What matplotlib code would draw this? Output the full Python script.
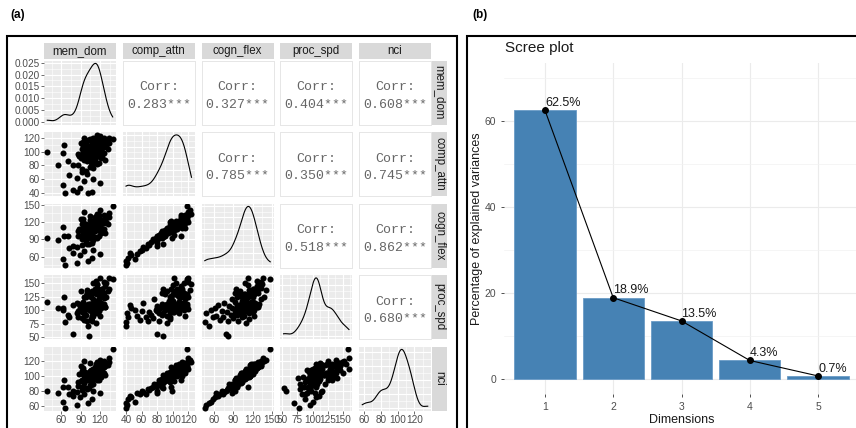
import matplotlib.pyplot as plt
import numpy as np
from matplotlib.patches import Rectangle
from matplotlib.ticker import FixedLocator, MultipleLocator, MaxNLocator, FormatStrFormatter

# --------------------------------------
# Donnees
# --------------------------------------
var_names = ['mem_dom', 'comp_attn', 'cogn_flex', 'proc_spd', 'nci']

mem_dom = [66, 85, 102, 107, 89, 120, 63, 78, 95, 110,
           38, 62, 55, 64, 98, 92, 104, 86, 110, 108,
           106, 118, 96, 105, 122, 110, 100, 112, 120, 114,
           108, 115, 126, 112, 104, 124, 114, 110, 128, 116,
           112, 130, 118, 114, 134, 120, 140, 116, 110, 102,
           118, 124, 90, 86, 112, 116, 128, 110, 98, 94,
           126, 118, 106, 100, 114, 122, 132, 118, 112, 102,
           108, 116, 120, 96, 116, 124, 104, 114, 120, 100,
           96, 108, 128, 106, 92, 98, 116, 124, 94, 116,
           78, 103, 96, 118, 92, 106, 126, 100, 94, 116,
           104, 108, 130, 96, 90, 104, 98, 122, 108, 112,
           126, 100, 96, 120, 106, 134, 92, 116, 88, 122,
           72, 92, 84, 100, 70]
comp_attn = [40, 41, 40, 42, 47, 54, 51, 45, 58, 60,
             99, 98, 80, 110, 72, 75, 78, 80, 76, 82,
             85, 84, 88, 86, 90, 92, 94, 95, 96, 98,
             100, 102, 98, 104, 106, 105, 108, 110, 110, 112,
             114, 115, 116, 118, 120, 122, 118, 124, 120, 116,
             100, 92, 90, 96, 88, 82, 88, 104, 112, 108,
             106, 112, 96, 86, 92, 114, 104, 118, 100, 94,
             80, 110, 102, 102, 96, 116, 90, 106, 100, 108,
             120, 116, 110, 96, 104, 98, 108, 98, 112, 106,
             80, 88, 102, 108, 96, 110, 112, 104, 114, 100,
             118, 102, 108, 106, 112, 116, 96, 104, 92, 114,
             120, 100, 108, 100, 98, 112, 92, 118, 94, 108,
             66, 70, 62, 68, 86]
cogn_flex = [46, 48, 52, 58, 62, 64, 55, 66, 70, 72,
             92, 112, 88, 95, 86, 90, 92, 95, 88, 98,
             100, 96, 102, 104, 100, 106, 108, 110, 104, 112,
             114, 116, 108, 118, 112, 120, 122, 118, 126, 124,
             128, 130, 132, 126, 136, 140, 147, 134, 120, 110,
             106, 102, 96, 104, 94, 92, 100, 108, 116, 120,
             118, 110, 114, 92, 110, 124, 116, 128, 104, 100,
             84, 132, 112, 98, 120, 118, 106, 110, 114, 114,
             138, 122, 128, 102, 116, 108, 112, 122, 118, 108,
             78, 82, 112, 118, 108, 120, 124, 110, 126, 112,
             130, 106, 120, 116, 126, 124, 104, 122, 100, 116,
             132, 106, 114, 118, 112, 128, 104, 122, 108, 116,
             74, 80, 76, 82, 96]
proc_spd = [78, 95, 70, 88, 105, 90, 100, 110, 82, 98,
            116, 105, 104, 125, 92, 85, 100, 98, 120, 80,
            106, 105, 95, 112, 130, 90, 102, 118, 108, 110,
            96, 135, 122, 104, 128, 140, 100, 114, 145, 108,
            132, 150, 120, 155, 160, 138, 158, 148, 102, 112,
            98, 112, 110, 88, 140, 94, 106, 150, 104, 116,
            112, 128, 84, 132, 76, 114, 135, 108, 118, 106,
            108, 142, 160, 100, 96, 126, 100, 108, 112, 138,
            125, 90, 106, 108, 105, 126, 98, 140, 110, 130,
            56, 52, 102, 116, 104, 128, 132, 106, 106, 146,
            112, 96, 124, 102, 136, 110, 124, 110, 136, 100,
            152, 130, 94, 108, 124, 140, 104, 130, 112, 104,
            88, 96, 114, 80, 92]
nci = [58, 62, 64, 70, 72, 78, 66, 74, 76, 80,
       80, 85, 78, 95, 84, 86, 88, 87, 90, 89,
       92, 95, 91, 96, 99, 97, 96, 102, 101, 103,
       100, 106, 105, 104, 102, 110, 107, 106, 114, 109,
       112, 118, 115, 116, 124, 122, 136, 119, 110, 104,
       103, 104, 93, 92, 98, 95, 102, 105, 101, 103,
       112, 110, 99, 95, 98, 116, 115, 113, 102, 96,
       90, 114, 110, 94, 106, 117, 98, 105, 108, 104,
       120, 108, 116, 100, 107, 99, 108, 112, 109, 107,
       80, 84, 106, 110, 104, 108, 116, 102, 111, 108,
       118, 101, 116, 100, 114, 107, 104, 112, 100, 110,
       120, 99, 106, 110, 103, 119, 95, 114, 103, 111,
       76, 82, 79, 83, 85]

var_ticks = [[60, 90, 120], [40, 60, 80, 100, 120], [60, 90, 120, 150],
             [50, 75, 100, 125, 150], [60, 80, 100, 120]]

# etiquettes de correlation (triangle superieur, ligne par ligne)
corr_labels = ['0.283***', '0.327***', '0.404***', '0.608***',
               '0.785***', '0.350***', '0.745***',
               '0.518***', '0.862***',
               '0.680***']

dims = [1, 2, 3, 4, 5]
explained = [62.5, 18.9, 13.5, 4.3, 0.7]

# --------------------------------------
# Figure
# --------------------------------------
W, H = 856, 428
plt.rcParams['font.family'] = ['Liberation Sans', 'DejaVu Sans']
fig = plt.figure(figsize=(W / 100, H / 100), dpi=100)


def ax_px(x0, y0, w, h):
    return fig.add_axes([x0 / W, 1 - (y0 + h) / H, w / W, h / H])


def kde(v):
    v = np.asarray(v, float)
    n = len(v)
    sd = v.std(ddof=1)
    iqr = np.subtract(*np.percentile(v, [75, 25]))
    bw = 0.9 * min(sd, iqr / 1.34) * n ** -0.2
    xs = np.linspace(v.min(), v.max(), 300)
    ys = np.exp(-0.5 * ((xs[:, None] - v[None, :]) / bw) ** 2).sum(1) / (n * bw * np.sqrt(2 * np.pi))
    return xs, ys


def expand(v):
    lo, hi = min(v), max(v)
    d = (hi - lo) * 0.05
    return lo - d, hi + d


data = [mem_dom, comp_attn, cogn_flex, proc_spd, nci]
col_x = [44, 122.75, 201.5, 280.25, 359]
row_y = [60.5, 132, 203.5, 275, 346.5]
pw, ph = 72, 64

tick_kw = dict(length=2, width=0.5, color='#333333', labelsize=7.2, labelcolor='#4D4D4D', pad=1)

k = 0
for i in range(5):
    for j in range(5):
        ax = ax_px(col_x[j], row_y[i], pw, ph)
        for s in ax.spines.values():
            s.set_visible(False)
        if i < j:
            # panneau de correlation
            ax.set_facecolor('white')
            for s in ax.spines.values():
                s.set_visible(True)
                s.set_color('#E6E6E6')
                s.set_linewidth(0.7)
            ax.set_xticks([])
            ax.set_yticks([])
            ax.text(0.5, 0.585, 'Corr:', ha='center', va='center', family='Liberation Mono',
                    fontsize=9.5, color='#666666', transform=ax.transAxes)
            ax.text(0.5, 0.31, corr_labels[k], ha='center', va='center', family='Liberation Mono',
                    fontsize=9.5, color='#666666', transform=ax.transAxes)
            k += 1
            continue

        ax.set_facecolor('#EBEBEB')
        ax.set_axisbelow(True)
        ax.set_xlim(*expand(data[j]))
        ax.xaxis.set_major_locator(FixedLocator(var_ticks[j]))
        mx = [(a + b) / 2 for a, b in zip(var_ticks[j][:-1], var_ticks[j][1:])]
        step = var_ticks[j][1] - var_ticks[j][0]
        mx = [var_ticks[j][0] - step / 2] + mx + [var_ticks[j][-1] + step / 2]
        ax.xaxis.set_minor_locator(FixedLocator(mx))

        if i == j:
            xs, ys = kde(data[i])
            ax.plot(xs, ys, color='black', lw=0.8)
            ax.set_ylim(-0.05 * ys.max(), 1.05 * ys.max())
            if i == 0:
                ax.yaxis.set_major_locator(MultipleLocator(0.005))
                ax.yaxis.set_minor_locator(MultipleLocator(0.0025))
            else:
                ax.yaxis.set_major_locator(MaxNLocator(6))
                ax.yaxis.set_minor_locator(MaxNLocator(12))
            ax.yaxis.set_major_formatter(FormatStrFormatter('%.3f'))
        else:
            ax.scatter(data[j], data[i], s=19, color='black', linewidths=0)
            ax.set_ylim(*expand(data[i]))
            ax.yaxis.set_major_locator(FixedLocator(var_ticks[i]))
            stp = var_ticks[i][1] - var_ticks[i][0]
            my = [var_ticks[i][0] - stp / 2] + [t + stp / 2 for t in var_ticks[i]]
            ax.yaxis.set_minor_locator(FixedLocator(my))

        ax.grid(which='major', color='white', lw=0.8)
        ax.grid(which='minor', color='white', lw=0.4)
        ax.tick_params(**tick_kw)
        ax.tick_params(which='minor', length=0)
        ax.tick_params(left=(j == 0), labelleft=(j == 0), bottom=(i == 4), labelbottom=(i == 4))

# bandeaux
for j in range(5):
    sa = ax_px(col_x[j], 43, pw, 16)
    sa.set_facecolor('#D9D9D9')
    sa.set_xticks([])
    sa.set_yticks([])
    for s in sa.spines.values():
        s.set_visible(False)
    sa.text(0.5, 0.5, var_names[j], ha='center', va='center', fontsize=8.3, color='#1A1A1A',
            transform=sa.transAxes)
for i in range(5):
    sa = ax_px(432, row_y[i], 15, ph)
    sa.set_facecolor('#D9D9D9')
    sa.set_xticks([])
    sa.set_yticks([])
    for s in sa.spines.values():
        s.set_visible(False)
    sa.text(0.5, 0.5, var_names[i], ha='center', va='center', fontsize=8.3, color='#1A1A1A',
            rotation=270, transform=sa.transAxes)

# --------------------------------------
# Scree plot
# --------------------------------------
ax_s = ax_px(504, 63, 355, 331)
ax_s.bar(dims, explained, width=0.9, color='steelblue', edgecolor='#6A9BC7', lw=0.6, zorder=2)
ax_s.plot(dims, explained, color='black', lw=0.8, marker='o', ms=4, zorder=3)
for d, e in zip(dims, explained):
    ax_s.annotate(f'{e}%', (d, e), xytext=(0, 1), textcoords='offset points',
                  ha='left', va='bottom', fontsize=9, color='#1A1A1A', zorder=4)
ax_s.set_xlim(0.4, 5.6)
ax_s.set_ylim(-3.5, 73.5)
ax_s.set_xticks(dims)
ax_s.yaxis.set_major_locator(MultipleLocator(20))
ax_s.yaxis.set_minor_locator(FixedLocator([10, 30, 50, 70]))
ax_s.set_axisbelow(True)
ax_s.grid(which='major', color='#EBEBEB', lw=0.8)
ax_s.grid(which='minor', axis='y', color='#F2F2F2', lw=0.5)
for s in ax_s.spines.values():
    s.set_visible(False)
ax_s.tick_params(length=2.5, width=0.6, color='#333333', labelsize=7.5, labelcolor='#4D4D4D', pad=3)
ax_s.tick_params(which='minor', length=0)
ax_s.set_xlabel('Dimensions', fontsize=9, color='#1A1A1A', labelpad=2)
ax_s.set_ylabel('Percentage of explained variances', fontsize=9, color='#1A1A1A', labelpad=1)
fig.text(505 / W, 1 - 48 / H, 'Scree plot', fontsize=11, va='center', ha='left', color='#1A1A1A')

# cadres et lettres
fig.patches.append(Rectangle((7 / W, 1 - 440 / H), 450 / W, 404 / H, transform=fig.transFigure,
                             fill=False, lw=1.5, edgecolor='black'))
fig.patches.append(Rectangle((467 / W, 1 - 440 / H), 420 / W, 404 / H, transform=fig.transFigure,
                             fill=False, lw=1.5, edgecolor='black'))
fig.text(10 / W, 1 - 15 / H, '(a)', fontsize=8.5, fontweight='bold', va='center')
fig.text(472 / W, 1 - 15 / H, '(b)', fontsize=8.5, fontweight='bold', va='center')

fig.savefig('out.png', dpi=100)
